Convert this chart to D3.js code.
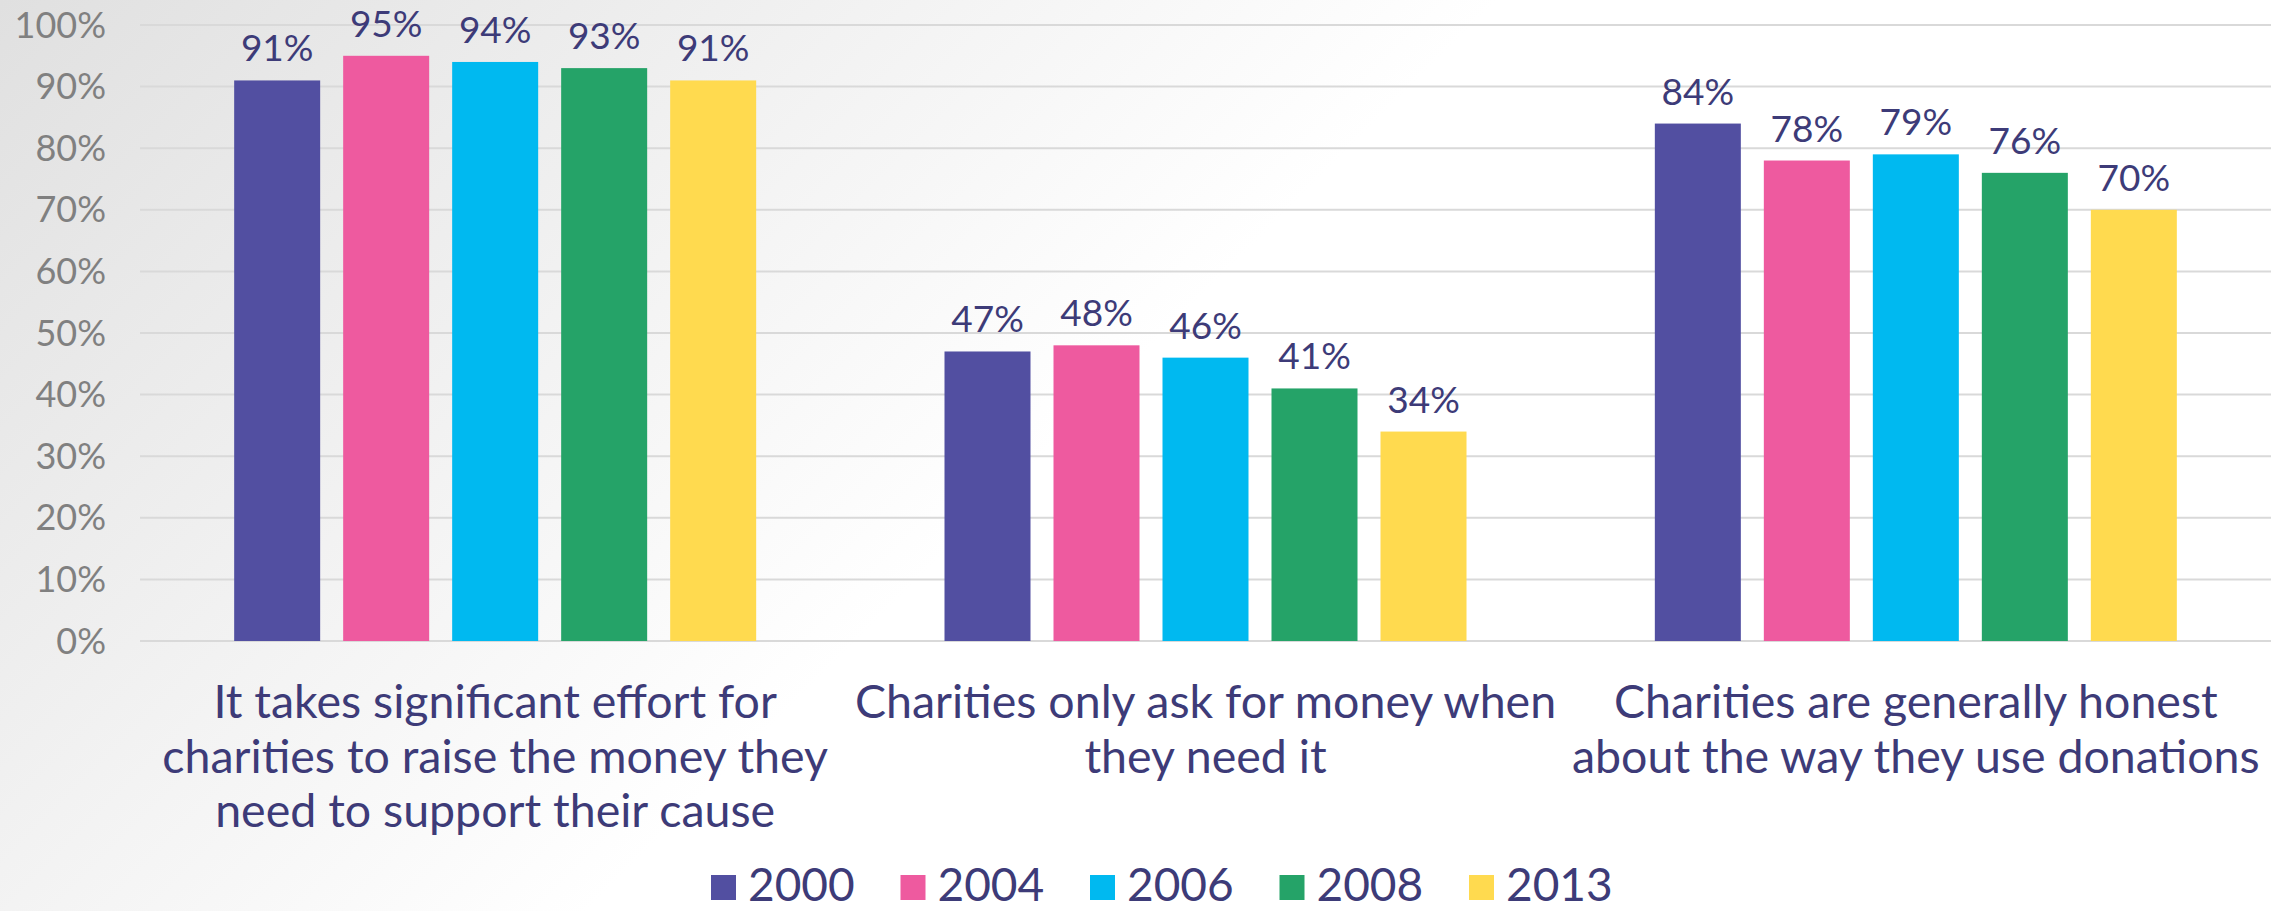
<!DOCTYPE html>
<html><head><meta charset="utf-8">
<script src="https://cdn.jsdelivr.net/npm/d3@7"></script>
<style>html,body{margin:0;padding:0;overflow:hidden;background:#fff}</style>
</head><body>
<svg id="chart" width="2277" height="911"></svg>
<script>
// ---- data ----
const categories = [
  "It takes significant effort for charities to raise the money they need to support their cause",
  "Charities only ask for money when they need it",
  "Charities are generally honest about the way they use donations"
];
const categoryLines = [
  ["It takes significant effort for", "charities to raise the money they", "need to support their cause"],
  ["Charities only ask for money when", "they need it"],
  ["Charities are generally honest", "about the way they use donations"]
];
const years = ["2000", "2004", "2006", "2008", "2013"];
const values2000 = [91, 47, 84];
const values2004 = [95, 48, 78];
const values2006 = [94, 46, 79];
const values2008 = [93, 41, 76];
const values2013 = [91, 34, 70];
const yTicks = [0, 10, 20, 30, 40, 50, 60, 70, 80, 90, 100];
const yTickLabels = ["0%", "10%", "20%", "30%", "40%", "50%", "60%", "70%", "80%", "90%", "100%"];
const seriesColors = ["#524FA1", "#EE5A9F", "#00B9F0", "#25A368", "#FFDA4F"];

// ---- build ----
const seriesValues = [values2000, values2004, values2006, values2008, values2013];
const data = categories.map((c, i) => ({
  category: c,
  values: years.map((y, j) => ({ year: y, value: seriesValues[j][i] }))
}));

const W = 2277, H = 911;
const svg = d3.select("#chart");
const navy = "#3D3B78";

// background gradient
const defs = svg.append("defs");
const grad = defs.append("linearGradient").attr("id", "bg")
  .attr("gradientUnits", "userSpaceOnUse")
  .attr("x1", 0).attr("y1", 0).attr("x2", 1000).attr("y2", 1000);
grad.append("stop").attr("offset", 0).attr("stop-color", "#e0e0e0");
grad.append("stop").attr("offset", 0.75).attr("stop-color", "#ffffff");
grad.append("stop").attr("offset", 1).attr("stop-color", "#ffffff");
svg.append("rect").attr("width", W).attr("height", H).attr("fill", "url(#bg)");

const plotLeft = 140, plotRight = 2271, plotTop = 25, plotBottom = 641;

const y = d3.scaleLinear().domain([0, 100]).range([plotBottom, plotTop]);
const x0 = d3.scaleBand().domain(categories).range([plotLeft, plotRight]).padding(0);
const inner = 522;
const x1 = d3.scaleBand().domain(years)
  .range([(x0.bandwidth() - inner) / 2, (x0.bandwidth() + inner) / 2])
  .paddingInner(0.211).paddingOuter(0);
const color = d3.scaleOrdinal().domain(years).range(seriesColors);

// gridlines
svg.append("g").selectAll("line").data(yTicks).join("line")
  .attr("x1", plotLeft).attr("x2", plotRight)
  .attr("y1", d => y(d)).attr("y2", d => y(d))
  .attr("stroke", "#d9d9d9").attr("stroke-width", 2);

// y axis labels
svg.append("g").selectAll("text").data(yTicks).join("text")
  .attr("x", 106).attr("y", d => y(d)).attr("dy", "0.35em")
  .attr("text-anchor", "end")
  .attr("font-family", "Lato").attr("font-size", 36)
  .attr("fill", "#808080")
  .text((d, i) => yTickLabels[i]);

// bars
const groups = svg.append("g").selectAll("g").data(data).join("g")
  .attr("transform", d => `translate(${x0(d.category)},0)`);

groups.selectAll("rect").data(d => d.values).join("rect")
  .attr("x", d => x1(d.year)).attr("width", x1.bandwidth())
  .attr("y", d => y(d.value)).attr("height", d => y(0) - y(d.value))
  .attr("fill", d => color(d.year));

groups.selectAll("text.val").data(d => d.values).join("text")
  .attr("class", "val")
  .attr("x", d => x1(d.year) + x1.bandwidth() / 2)
  .attr("y", d => y(d.value) - 19)
  .attr("text-anchor", "middle")
  .attr("font-family", "Lato").attr("font-size", 37)
  .attr("fill", navy)
  .text(d => d.value + "%");

// category labels
const catG = svg.append("g").selectAll("text").data(categories).join("text")
  .attr("x", d => x0(d) + x0.bandwidth() / 2)
  .attr("y", 718)
  .attr("text-anchor", "middle")
  .attr("font-family", "Lato").attr("font-size", 46.5)
  .attr("fill", navy);
catG.selectAll("tspan").data((d, i) => categoryLines[i]).join("tspan")
  .attr("x", function() { return d3.select(this.parentNode).attr("x"); })
  .attr("dy", (d, i) => i === 0 ? 0 : 54.5)
  .text(d => d);

// legend
const lx = d3.scalePoint().domain(years).range([711, 1469]);
const leg = svg.append("g").selectAll("g").data(years).join("g")
  .attr("transform", d => `translate(${lx(d)},0)`);
leg.append("rect").attr("x", 0).attr("y", 875).attr("width", 25).attr("height", 25)
  .attr("fill", d => color(d));
leg.append("text").attr("x", 37).attr("y", 901)
  .attr("font-family", "Lato").attr("font-size", 46)
  .attr("fill", navy).text(d => d);
</script>
</body></html>
